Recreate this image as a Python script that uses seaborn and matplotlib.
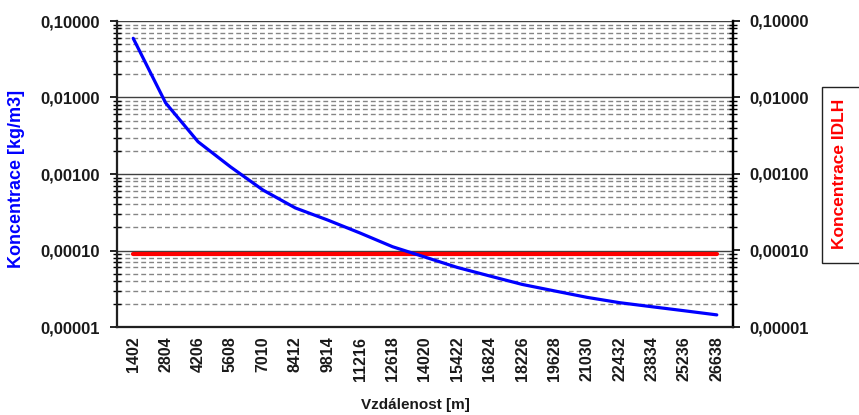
import matplotlib
matplotlib.use("Agg")
import matplotlib.pyplot as plt
import matplotlib.ticker as mticker
from matplotlib.patches import Rectangle
import numpy as np
import pandas as pd
import seaborn as sns

# Distance categories [m]
distances = [1402, 2804, 4206, 5608, 7010, 8412, 9814, 11216, 12618, 14020,
             15422, 16824, 18226, 19628, 21030, 22432, 23834, 25236, 26638]
# Concentration along the plume [kg/m3]
concentration = [0.0594, 0.0085, 0.00264, 0.00124, 0.000618, 0.00036, 0.00025,
                 0.000169, 0.000112, 8.2e-5, 6.0e-5, 4.64e-5, 3.6e-5, 2.96e-5,
                 2.44e-5, 2.08e-5, 1.84e-5, 1.63e-5, 1.44e-5]
# IDLH limit concentration [kg/m3]
idlh = [8.9e-5] * len(distances)

y_ticks = [1e-5, 1e-4, 1e-3, 1e-2, 1e-1]

sns.set_theme(style="white")
plt.rcParams["font.family"] = ["Liberation Sans", "DejaVu Sans"]
plt.rcParams["font.weight"] = "bold"

df = pd.DataFrame({
    "dist": [str(d) for d in distances],
    "conc": concentration,
    "idlh": idlh,
})

fig = plt.figure(figsize=(8.59, 4.15), dpi=100)
ax = fig.add_axes([117 / 859, 1 - 327 / 415, 616 / 859, 306 / 415])

sns.lineplot(data=df, x="dist", y="idlh", ax=ax, color="#ff0000", lw=3.0,
             sort=False)
sns.lineplot(data=df, x="dist", y="conc", ax=ax, color="#0000ff", lw=2.3,
             sort=False)

ax.set_yscale("log")
ax.set_ylim(1e-5, 1e-1)
ax.set_xlim(-0.5, len(distances) - 0.5)


def fmt(v, pos=None):
    return f"{v:.5f}".replace(".", ",")


ax.yaxis.set_major_locator(mticker.FixedLocator(y_ticks))
ax.yaxis.set_major_formatter(mticker.FuncFormatter(fmt))
ax.yaxis.set_minor_locator(
    mticker.LogLocator(base=10, subs=np.arange(2, 10), numticks=20))
ax.yaxis.set_minor_formatter(mticker.NullFormatter())

ax.grid(False)
ax.yaxis.grid(True, which="major", color="#404040", lw=1.0, ls="-")
ax.yaxis.grid(True, which="minor", color="#858585", lw=1.0, ls=(0, (3.5, 2.2)))

ax.set_xticks(range(len(distances)))
ax.set_xticklabels([str(d) for d in distances], rotation=90, fontsize=11.5,
                   fontweight="bold", color="#1a1a1a")
ax.tick_params(axis="x", length=0, pad=7)
ax.tick_params(axis="y", which="major", direction="out", length=5, width=1.2,
               labelsize=12, pad=7, color="black", labelcolor="#1a1a1a")
ax.tick_params(axis="y", which="minor", direction="inout", length=6, width=1.0,
               color="black")
for lbl in ax.get_yticklabels():
    lbl.set_fontweight("bold")

ax.set_xlabel("")
ax.set_ylabel("")
ax.spines["top"].set_visible(False)
for side in ("left", "right", "bottom"):
    ax.spines[side].set_color("black")
    ax.spines[side].set_linewidth(1.6)

# Secondary axis for the IDLH scale
ax2 = ax.twinx()
ax2.set_yscale("log")
ax2.set_ylim(1e-5, 1e-1)
ax2.yaxis.set_major_locator(mticker.FixedLocator(y_ticks))
ax2.yaxis.set_major_formatter(mticker.FuncFormatter(fmt))
ax2.yaxis.set_minor_locator(
    mticker.LogLocator(base=10, subs=np.arange(2, 10), numticks=20))
ax2.yaxis.set_minor_formatter(mticker.NullFormatter())
ax2.tick_params(axis="y", which="major", direction="out", length=5, width=1.2,
                labelsize=12, pad=7, color="black", labelcolor="#1a1a1a")
ax2.tick_params(axis="y", which="minor", direction="inout", length=6,
                width=1.0, color="black")
for lbl in ax2.get_yticklabels():
    lbl.set_fontweight("bold")
ax2.spines["top"].set_visible(False)
ax2.spines["right"].set_linewidth(1.6)
ax2.spines["right"].set_color("black")
ax2.grid(False)

fig.text(17 / 859, 1 - 179 / 415, "Koncentrace [kg/m3]", rotation=90,
         ha="center", va="center", color="#0000ff", fontsize=13,
         fontweight="bold")
fig.text(415 / 859, 1 - 405 / 415, "Vzdálenost [m]", ha="center",
         va="center", color="#1a1a1a", fontsize=11, fontweight="bold")

fig.patches.append(Rectangle((822 / 859, 1 - 263 / 415), 40 / 859,
                             176 / 415, transform=fig.transFigure,
                             facecolor="white", edgecolor="#222222", lw=1.0))
fig.text(840 / 859, 1 - 173.5 / 415, "Koncentrace IDLH", rotation=90,
         ha="center", va="center", color="#ff0000", fontsize=12.5,
         fontweight="bold")

fig.savefig("out.png", dpi=100)
